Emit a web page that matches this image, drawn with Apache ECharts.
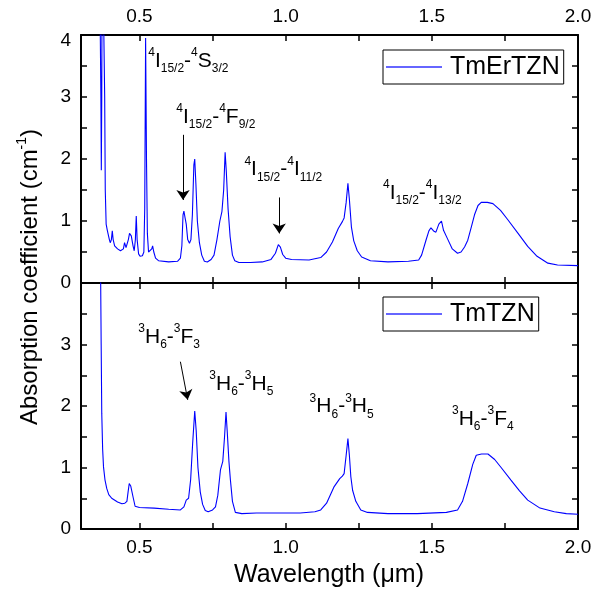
<!DOCTYPE html>
<html><head><meta charset="utf-8">
<script src="https://cdn.jsdelivr.net/npm/echarts@6/dist/echarts.min.js"></script>
<style>html,body{margin:0;padding:0;background:#fff}#c{width:607px;height:589px}</style>
</head><body><div id="c"></div>
<script>
// ---- data ----
const seriesNames = ['TmErTZN', 'TmTZN'];

const xTop = [0.362,0.366,0.368,0.3695,0.371,0.3725,0.378,0.381,0.383,0.386,0.39,0.397,0.4,0.404,0.407,0.41,0.415,0.425,0.435,0.445,0.449,0.451,0.454,0.458,0.462,0.466,0.472,0.478,0.482,0.486,0.489,0.492,0.497,0.502,0.51,0.515,0.518,0.521,0.524,0.527,0.531,0.537,0.542,0.545,0.549,0.555,0.565,0.6,0.63,0.64,0.645,0.649,0.652,0.656,0.66,0.665,0.671,0.676,0.681,0.686,0.689,0.693,0.698,0.705,0.713,0.722,0.732,0.745,0.755,0.765,0.775,0.782,0.788,0.793,0.797,0.803,0.81,0.818,0.826,0.84,0.88,0.92,0.95,0.965,0.975,0.982,0.99,1.0,1.02,1.08,1.12,1.14,1.16,1.18,1.194,1.2,1.207,1.213,1.218,1.225,1.233,1.245,1.26,1.29,1.35,1.42,1.455,1.465,1.48,1.49,1.497,1.506,1.514,1.524,1.533,1.54,1.553,1.57,1.588,1.6,1.612,1.623,1.635,1.646,1.658,1.669,1.69,1.709,1.735,1.76,1.795,1.828,1.86,1.897,1.93,2.0];
const yTop = [6,6,3.0,1.82,3.0,6,6,3.0,1.5,0.95,0.85,0.7,0.65,0.7,0.84,0.7,0.6,0.55,0.52,0.55,0.65,0.68,0.57,0.58,0.7,0.8,0.76,0.6,0.52,0.7,1.08,0.7,0.47,0.43,0.44,0.5,1.2,3.95,2.0,0.8,0.5,0.48,0.55,0.6,0.5,0.4,0.36,0.34,0.35,0.4,0.6,1.1,1.16,1.05,0.95,0.7,0.64,0.7,1.1,1.9,2.0,1.6,1.0,0.65,0.45,0.35,0.34,0.38,0.45,0.7,1.0,1.15,1.5,2.11,1.8,1.2,0.75,0.45,0.36,0.33,0.33,0.34,0.38,0.48,0.62,0.58,0.46,0.4,0.38,0.37,0.41,0.5,0.66,0.88,0.99,1.05,1.3,1.61,1.35,0.9,0.68,0.52,0.42,0.36,0.34,0.35,0.37,0.45,0.69,0.84,0.89,0.84,0.82,0.95,1.0,0.85,0.72,0.55,0.48,0.5,0.58,0.69,0.9,1.1,1.25,1.3,1.3,1.28,1.17,1.02,0.8,0.59,0.43,0.32,0.29,0.28];

const xBot = [0.362,0.367,0.369,0.371,0.374,0.377,0.382,0.388,0.395,0.405,0.411,0.425,0.44,0.45,0.457,0.461,0.465,0.47,0.474,0.479,0.485,0.5,0.55,0.6,0.64,0.652,0.66,0.668,0.675,0.682,0.689,0.694,0.7,0.708,0.716,0.725,0.735,0.75,0.76,0.768,0.777,0.785,0.791,0.796,0.8,0.806,0.811,0.818,0.828,0.85,0.9,1.0,1.05,1.1,1.12,1.14,1.166,1.185,1.194,1.2,1.207,1.213,1.218,1.223,1.229,1.24,1.257,1.28,1.35,1.45,1.55,1.588,1.605,1.623,1.64,1.652,1.67,1.692,1.715,1.737,1.77,1.8,1.828,1.87,1.919,1.96,2.0];
const yBot = [6,4.2,3.0,1.88,1.3,1.01,0.8,0.66,0.56,0.5,0.47,0.44,0.41,0.42,0.45,0.6,0.74,0.7,0.69,0.5,0.37,0.35,0.34,0.32,0.31,0.36,0.47,0.5,0.8,1.4,1.92,1.6,1.0,0.6,0.4,0.3,0.28,0.31,0.36,0.55,0.96,1.1,1.5,1.9,1.6,1.1,0.8,0.45,0.27,0.25,0.26,0.26,0.26,0.28,0.31,0.42,0.69,0.82,0.86,0.9,1.2,1.47,1.2,0.85,0.63,0.45,0.31,0.27,0.25,0.25,0.27,0.31,0.45,0.74,1.05,1.2,1.22,1.22,1.13,1.0,0.8,0.62,0.47,0.34,0.28,0.25,0.24];

const xTickValues = [0.5, 0.75, 1.0, 1.25, 1.5, 1.75, 2.0];
const xLabelValues = [0.5, 1.0, 1.5, 2.0];
const yTopLabels = [0, 1, 2, 3, 4];
const yBotLabels = [0, 1, 2, 3];

// annotations (data coordinates: left edge, text bottom)
const annPanel = [0, 0, 0, 0, 1, 1, 1, 1];
const annText = [
  '{sup|4}{m|I}{sub|15/2}{m|-}{sup|4}{m|S}{sub|3/2}',
  '{sup|4}{m|I}{sub|15/2}{m|-}{sup|4}{m|F}{sub|9/2}',
  '{sup|4}{m|I}{sub|15/2}{m|-}{sup|4}{m|I}{sub|11/2}',
  '{sup|4}{m|I}{sub|15/2}{m|-}{sup|4}{m|I}{sub|13/2}',
  '{sup|3}{m|H}{sub|6}{m|-}{sup|3}{m|F}{sub|3}',
  '{sup|3}{m|H}{sub|6}{m|-}{sup|3}{m|H}{sub|5}',
  '{sup|3}{m|H}{sub|6}{m|-}{sup|3}{m|H}{sub|5}',
  '{sup|3}{m|H}{sub|6}{m|-}{sup|3}{m|F}{sub|4}'
];
const annX = [0.530, 0.626, 0.859, 1.333, 0.496, 0.739, 1.082, 1.569];
const annY = [3.44, 2.53, 1.69, 1.31, 2.98, 2.21, 1.85, 1.64];

// arrows [x1,y1,x2,y2]
const arrowsTop = [[0.649, 2.39, 0.649, 1.34], [0.978, 1.38, 0.978, 0.80]];
const arrowsBot = [[0.640, 2.72, 0.665, 2.10]];

// ---- chart ----
const FF = "'Liberation Sans', Arial, sans-serif";
const chart = echarts.init(document.getElementById('c'), null, {renderer: 'canvas'});

function xAx(gridIndex, position, showLabels) {
  return {
    type: 'value', gridIndex, position, min: 0.3, max: 2.0,
    axisLine: {show: true, onZero: false, lineStyle: {color: '#000', width: 2}},
    axisTick: {show: true, inside: true, length: 6, customValues: xTickValues, lineStyle: {color: '#000', width: 1.5}},
    axisLabel: {show: showLabels, customValues: xLabelValues, formatter: v => v.toFixed(1),
      fontSize: 19, color: '#000', fontFamily: FF, margin: 9},
    splitLine: {show: false}
  };
}
function yAx(gridIndex, position, labels) {
  return {
    type: 'value', gridIndex, position, min: 0, max: 4, interval: 0.5,
    axisLine: {show: true, onZero: false, lineStyle: {color: '#000', width: 2}},
    axisTick: {show: true, inside: true, length: 6, lineStyle: {color: '#000', width: 1.5}},
    axisLabel: {show: !!labels, customValues: labels || undefined,
      formatter: v => (v === 4 ? '{tp|4}' : String(v)),
      rich: {tp: {fontSize: 19, color: '#000', fontFamily: FF, padding: [12, 0, 0, 0]}},
      fontSize: 19, color: '#000', fontFamily: FF, margin: 10},
    splitLine: {show: false}
  };
}

function toLine(xs, ys) { return xs.map((x, i) => [x, ys[i]]); }
function arrowData(arr) { return arr.map(a => [{coord: [a[0], a[1]]}, {coord: [a[2], a[3]]}]); }

const markLineBase = {
  silent: true, symbol: ['none', 'arrow'], symbolSize: 10, animation: false,
  label: {show: false}, lineStyle: {color: '#000', width: 1, type: 'solid'},
  emphasis: {disabled: true}
};

const legendBase = {
  orient: 'horizontal', borderColor: '#000', borderWidth: 1, borderRadius: 0,
  backgroundColor: '#fff', padding: [3, 4, 3, 3], itemWidth: 56, itemHeight: 1.5, itemGap: 0,
  icon: 'rect', itemStyle: {color: '#3333ff'},
  textStyle: {fontSize: 25, color: '#000', fontFamily: FF, padding: [0, 0, 0, 3], lineHeight: 28},
  selectedMode: false
};

const option = {
  backgroundColor: '#fff',
  animation: false,
  grid: [
    {left: 81, top: 35, width: 497, height: 248, containLabel: false},
    {left: 81, top: 283, width: 497, height: 246, containLabel: false}
  ],
  xAxis: [xAx(0, 'top', true), xAx(0, 'bottom', false), xAx(1, 'bottom', true), xAx(1, 'top', false)],
  yAxis: [yAx(0, 'left', yTopLabels), yAx(0, 'right', null), yAx(1, 'left', yBotLabels), yAx(1, 'right', null)],
  legend: [
    Object.assign({}, legendBase, {data: [seriesNames[0]], left: 383, top: 50}),
    Object.assign({}, legendBase, {data: [seriesNames[1]], left: 383, top: 297})
  ],
  series: [
    {type: 'line', name: seriesNames[0], xAxisIndex: 0, yAxisIndex: 0, data: toLine(xTop, yTop),
      symbol: 'none', clip: true, lineStyle: {color: '#0000ff', width: 1.1}, itemStyle: {color: '#0000ff'},
      markLine: Object.assign({}, markLineBase, {data: arrowData(arrowsTop)})},
    {type: 'line', name: seriesNames[1], xAxisIndex: 2, yAxisIndex: 2, data: toLine(xBot, yBot),
      symbol: 'none', clip: true, lineStyle: {color: '#0000ff', width: 1.1}, itemStyle: {color: '#0000ff'},
      markLine: Object.assign({}, markLineBase, {data: arrowData(arrowsBot)})}
  ]
};
chart.setOption(option);

const rich = {
  m: {fontSize: 21, lineHeight: 28, fontFamily: FF, color: '#000'},
  sup: {fontSize: 12, lineHeight: 15, verticalAlign: 'top', fontFamily: FF, color: '#000'},
  sub: {fontSize: 12, lineHeight: 12, verticalAlign: 'bottom', fontFamily: FF, color: '#000'}
};
const graphics = annText.map((t, i) => {
  const p = annPanel[i] === 0
    ? chart.convertToPixel({xAxisIndex: 0, yAxisIndex: 0}, [annX[i], annY[i]])
    : chart.convertToPixel({xAxisIndex: 2, yAxisIndex: 2}, [annX[i], annY[i]]);
  return {type: 'text', x: p[0], y: p[1] + 5, silent: true,
    style: {text: t, rich, textAlign: 'left', textVerticalAlign: 'bottom'}};
});
graphics.push({
  type: 'text', x: 30, y: 277, rotation: Math.PI / 2, silent: true,
  style: {text: '{t|Absorption coefficient (cm}{s|-1}{t|)}', textAlign: 'center', textVerticalAlign: 'middle',
    rich: {t: {fontSize: 24, lineHeight: 30, fontFamily: FF, color: '#000'},
           s: {fontSize: 14, lineHeight: 18, verticalAlign: 'top', fontFamily: FF, color: '#000'}}}
});
graphics.push({
  type: 'text', x: 329, y: 575, silent: true,
  style: {text: 'Wavelength (\u03bcm)', font: "25px 'Liberation Sans', Arial, sans-serif", fill: '#000',
    textAlign: 'center', textVerticalAlign: 'middle'}
});
chart.setOption({graphic: graphics});
</script>
</body></html>
